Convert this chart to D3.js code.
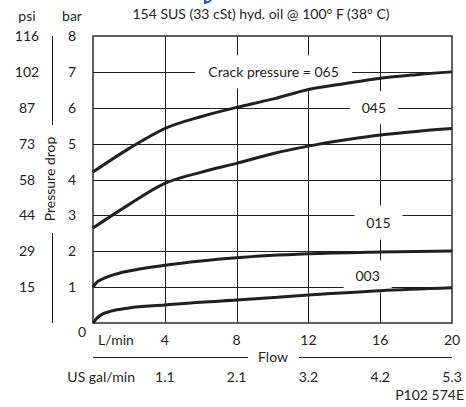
<!DOCTYPE html>
<html>
<head>
<meta charset="utf-8">
<script src="https://cdn.jsdelivr.net/npm/d3@7"></script>
<style>
  body { margin: 0; background: #fff; }
  text { font-family: Lato, "Noto Sans", sans-serif; fill: #231f20; }
</style>
</head>
<body>
<div id="chart"></div>
<script>
// flow in L/min, pressure drop in bar
const flowTicks = [4, 8, 12, 16, 20]
const galTicks = ['1.1', '2.1', '3.2', '4.2', '5.3']
const barTicks = [1, 2, 3, 4, 5, 6, 7, 8]
const psiTicks = ['15', '29', '44', '58', '73', '87', '102', '116']

const curve065 = [[0, 4.21], [2, 4.86], [4, 5.42], [6, 5.75], [8, 6.01], [10, 6.24],
                  [12, 6.51], [14, 6.67], [16, 6.82], [18, 6.92], [20, 7.0]]
const curve045 = [[0, 2.65], [2, 3.3], [4, 3.89], [6, 4.2], [8, 4.45], [10, 4.72],
                  [12, 4.93], [14, 5.1], [16, 5.24], [18, 5.34], [20, 5.42]]
const curve015 = [[0, 1.0], [0.25, 1.15], [0.5, 1.22], [1, 1.32], [2, 1.45], [4, 1.61],
                  [6, 1.73], [8, 1.82], [12, 1.93], [16, 1.98], [20, 2.01]]
const curve003 = [[0, 0], [0.25, 0.15], [0.5, 0.24], [1, 0.33], [2, 0.42], [4, 0.5],
                  [6, 0.58], [8, 0.64], [12, 0.78], [16, 0.9], [20, 0.98]]

// curve labels: flow / bar position of the label centre, and the white gap behind it
const labels = [
  {text: 'Crack pressure = 065', x: 10.06, y: 7.0, w: 157, h: 33},
  {text: '045', x: 15.65, y: 6.0, w: 48, h: 33},
  {text: '015', x: 15.9, y: 2.8, w: 48, h: 34},
  {text: '003', x: 15.3, y: 1.3, w: 48, h: 32}
]

const W = 466, H = 407
const pLeft = 93, pRight = 452, pTop = 36, pBottom = 323

const svg = d3.select('#chart').append('svg')
  .attr('width', W).attr('height', H)

const x = d3.scaleLinear().domain([0, 20]).range([pLeft, pRight])
const y = d3.scaleLinear().domain([0, 8]).range([pBottom, pTop])

const ink = '#231f20'

// grid
const grid = svg.append('g').attr('stroke', ink).attr('stroke-width', 1)
grid.selectAll('.vg').data(flowTicks.slice(0, -1)).enter().append('line')
  .attr('x1', d => Math.round(x(d)) + 0.5).attr('x2', d => Math.round(x(d)) + 0.5)
  .attr('y1', pTop).attr('y2', pBottom)
grid.selectAll('.hg').data(barTicks.slice(0, -1)).enter().append('line')
  .attr('y1', d => Math.round(y(d)) + 0.5).attr('y2', d => Math.round(y(d)) + 0.5)
  .attr('x1', pLeft).attr('x2', pRight)

// gaps behind labels
svg.selectAll('.gap').data(labels).enter().append('rect')
  .attr('x', d => x(d.x) - d.w / 2).attr('y', d => y(d.y) - d.h / 2)
  .attr('width', d => d.w).attr('height', d => d.h)
  .attr('fill', '#fff')

svg.selectAll('.lbl').data(labels).enter().append('text')
  .attr('x', d => x(d.x)).attr('y', d => y(d.y) + 5)
  .attr('text-anchor', 'middle').attr('font-size', 14)
  .text(d => d.text)

// frame
svg.append('rect')
  .attr('x', pLeft).attr('y', pTop)
  .attr('width', pRight - pLeft).attr('height', pBottom - pTop)
  .attr('fill', 'none').attr('stroke', '#3a3a3a').attr('stroke-width', 1.6)

// curves
const line = d3.line().x(d => x(d[0])).y(d => y(d[1])).curve(d3.curveMonotoneX)
svg.selectAll('.curve').data([curve065, curve045, curve015, curve003]).enter()
  .append('path')
  .attr('d', line)
  .attr('fill', 'none').attr('stroke', ink).attr('stroke-width', 3)

// y tick labels
svg.selectAll('.bar').data(barTicks).enter().append('text')
  .attr('x', 72).attr('y', d => y(d) + 5)
  .attr('text-anchor', 'middle').attr('font-size', 14)
  .text(d => d)
svg.append('text').attr('x', 82).attr('y', 337)
  .attr('text-anchor', 'middle').attr('font-size', 14).text('0')
svg.selectAll('.psi').data(psiTicks).enter().append('text')
  .attr('x', 27).attr('y', (d, i) => y(barTicks[i]) + 5)
  .attr('text-anchor', 'middle').attr('font-size', 14)
  .text(d => d)
svg.append('text').attr('x', 27).attr('y', 21)
  .attr('text-anchor', 'middle').attr('font-size', 14).text('psi')
svg.append('text').attr('x', 72).attr('y', 21)
  .attr('text-anchor', 'middle').attr('font-size', 14).text('bar')

// y title with line
svg.append('line').attr('x1', 52.5).attr('x2', 52.5).attr('y1', pTop).attr('y2', 125)
  .attr('stroke', ink)
svg.append('line').attr('x1', 52.5).attr('x2', 52.5).attr('y1', 233).attr('y2', pBottom)
  .attr('stroke', ink)
svg.append('text').attr('transform', 'translate(55,179) rotate(-90)')
  .attr('text-anchor', 'middle').attr('font-size', 14).text('Pressure drop')

// x tick labels
svg.selectAll('.lpm').data(flowTicks).enter().append('text')
  .attr('x', d => x(d)).attr('y', 345)
  .attr('text-anchor', 'middle').attr('font-size', 14)
  .text(d => d)
svg.append('text').attr('x', 116).attr('y', 345)
  .attr('text-anchor', 'middle').attr('font-size', 14).text('L/min')

svg.append('line').attr('x1', pLeft).attr('x2', 248).attr('y1', 357.5).attr('y2', 357.5)
  .attr('stroke', ink)
svg.append('line').attr('x1', 299).attr('x2', pRight).attr('y1', 357.5).attr('y2', 357.5)
  .attr('stroke', ink)
svg.append('text').attr('x', 273).attr('y', 362)
  .attr('text-anchor', 'middle').attr('font-size', 14).text('Flow')

svg.selectAll('.gal').data(galTicks).enter().append('text')
  .attr('x', (d, i) => x(flowTicks[i])).attr('y', 382)
  .attr('text-anchor', 'middle').attr('font-size', 14)
  .text(d => d)
svg.append('text').attr('x', 135).attr('y', 382)
  .attr('text-anchor', 'end').attr('font-size', 14).text('US gal/min')

svg.append('text').attr('x', 464).attr('y', 400)
  .attr('text-anchor', 'end').attr('font-size', 14).text('P102 574E')

// title
svg.append('text').attr('x', 261).attr('y', 19)
  .attr('text-anchor', 'middle').attr('font-size', 14)
  .text('154 SUS (33 cSt) hyd. oil @ 100° F (38° C)')

// cut-off blue mark at the top edge
svg.append('path').attr('d', 'M205,0 L205,4 M205,1 Q208,4 211,0')
  .attr('fill', 'none').attr('stroke', '#1d5fa8').attr('stroke-width', 2)
</script>
</body>
</html>
